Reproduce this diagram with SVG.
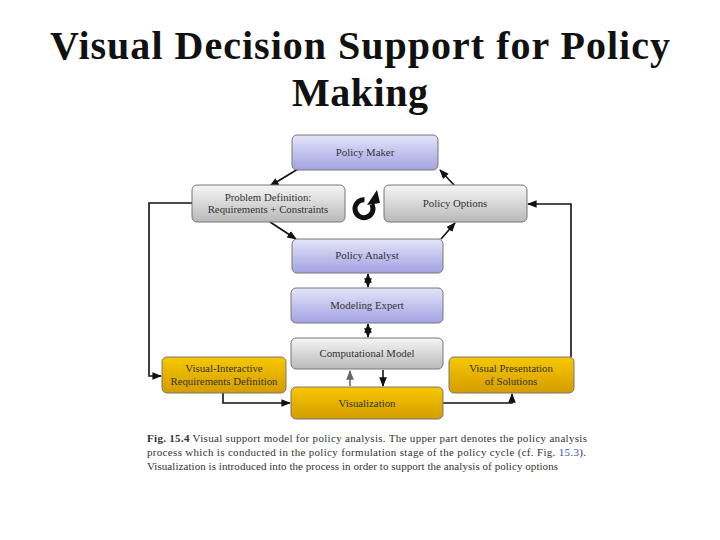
<svg xmlns="http://www.w3.org/2000/svg" width="720" height="540" viewBox="0 0 720 540">
<defs>
<linearGradient id="gP" x1="0" y1="0" x2="0" y2="1"><stop offset="0" stop-color="#e4e4fa"/><stop offset="1" stop-color="#a2a2e2"/></linearGradient>
<linearGradient id="gG" x1="0" y1="0" x2="0" y2="1"><stop offset="0" stop-color="#f6f6f6"/><stop offset="1" stop-color="#b9b9b9"/></linearGradient>
<linearGradient id="gY" x1="0" y1="0" x2="0" y2="1"><stop offset="0" stop-color="#f7c800"/><stop offset="1" stop-color="#d49c00"/></linearGradient>
<marker id="ah" viewBox="0 0 10 10" refX="9" refY="5" markerWidth="6" markerHeight="6" orient="auto-start-reverse"><path d="M0,1 L10,5 L0,9 z" fill="#111"/></marker>
<marker id="ahg" viewBox="0 0 10 10" refX="9" refY="5" markerWidth="6" markerHeight="6" orient="auto-start-reverse"><path d="M0,1 L10,5 L0,9 z" fill="#666"/></marker>
<style>
.box{stroke:#777;stroke-width:1}
.p{fill:url(#gP)}.g{fill:url(#gG)}.y{fill:url(#gY)}
.t{font-family:"Liberation Serif",serif;font-size:10.8px;fill:#333;text-anchor:middle}
.c{fill:none;stroke:#111;stroke-width:1.6}
.title{font-family:"Liberation Serif",serif;font-weight:bold;font-size:40px;fill:#111;text-anchor:middle}
.cap{font-family:"Liberation Serif",serif;font-size:11px;fill:#333}
</style>
</defs>
<rect width="720" height="540" fill="#fff"/>
<text class="title" x="360" y="59" textLength="620" lengthAdjust="spacing">Visual Decision Support for Policy</text>
<text class="title" x="360" y="106" textLength="136" lengthAdjust="spacing">Making</text>

<g id="connectors">
<line class="c" x1="298" y1="169" x2="270" y2="186" marker-end="url(#ah)"/>
<line class="c" x1="454" y1="185" x2="440" y2="170" marker-end="url(#ah)"/>
<line class="c" x1="270" y1="222" x2="296" y2="239" marker-end="url(#ah)"/>
<line class="c" x1="441" y1="239" x2="455" y2="223" marker-end="url(#ah)"/>
<line class="c" x1="368" y1="274" x2="368" y2="287" marker-start="url(#ah)" marker-end="url(#ah)"/>
<line class="c" x1="368" y1="324" x2="368" y2="337" marker-start="url(#ah)" marker-end="url(#ah)"/>
<line x1="350" y1="386" x2="350" y2="371" stroke="#666" stroke-width="1.6" marker-end="url(#ahg)"/>
<line class="c" x1="383" y1="370" x2="383" y2="386" marker-end="url(#ah)"/>
<polyline class="c" points="192,203 149,203 149,376 161,376" marker-end="url(#ah)"/>
<polyline class="c" points="571,357 571,204 528,204" marker-end="url(#ah)"/>
<polyline class="c" points="223,393 223,403 290,403" marker-end="url(#ah)"/>
<polyline class="c" points="443,403 512,403 512,394" marker-end="url(#ah)"/>
</g>

<g id="policy-maker"><rect class="box p" x="292" y="135" width="146" height="35" rx="5"/><text class="t" x="365" y="156">Policy Maker</text></g>
<g id="problem-definition"><rect class="box g" x="192" y="185" width="153" height="37" rx="5"/><text class="t" x="268" y="201">Problem Definition:</text><text class="t" x="268" y="213">Requirements + Constraints</text></g>
<g id="policy-options"><rect class="box g" x="384" y="185" width="143" height="37" rx="5"/><text class="t" x="455" y="207">Policy Options</text></g>
<g id="cycle-icon">
<path d="M364.5,199.7 A9,9 0 1 0 371.8,204.2" fill="none" stroke="#111" stroke-width="5"/>
<polygon points="367,205 380,203 377,190" fill="#111"/>
</g>
<g id="policy-analyst"><rect class="box p" x="292" y="239" width="151" height="34" rx="5"/><text class="t" x="367" y="259">Policy Analyst</text></g>
<g id="modeling-expert"><rect class="box p" x="291" y="288" width="152" height="35" rx="5"/><text class="t" x="367" y="309">Modeling Expert</text></g>
<g id="computational-model"><rect class="box g" x="291" y="338" width="152" height="31" rx="5"/><text class="t" x="367" y="357">Computational Model</text></g>
<g id="visualization"><rect class="box y" x="291" y="387" width="152" height="32" rx="5"/><text class="t" x="367" y="407">Visualization</text></g>
<g id="visual-interactive"><rect class="box y" x="162" y="357" width="124" height="36" rx="5"/><text class="t" x="224" y="372">Visual-Interactive</text><text class="t" x="224" y="385">Requirements Definition</text></g>
<g id="visual-presentation"><rect class="box y" x="449" y="357" width="125" height="36" rx="5"/><text class="t" x="511" y="372">Visual Presentation</text><text class="t" x="511" y="385">of Solutions</text></g>

<g id="caption">
<text class="cap" x="147" y="442" textLength="440" lengthAdjust="spacing"><tspan font-weight="bold">Fig. 15.4</tspan> Visual support model for policy analysis. The upper part denotes the policy analysis</text>
<text class="cap" x="147" y="456" textLength="439" lengthAdjust="spacing">process which is conducted in the policy formulation stage of the policy cycle (cf. Fig. <tspan fill="#3050c0">15.3</tspan>).</text>
<text class="cap" x="147" y="470" textLength="411" lengthAdjust="spacing">Visualization is introduced into the process in order to support the analysis of policy options</text>
</g>
</svg>
